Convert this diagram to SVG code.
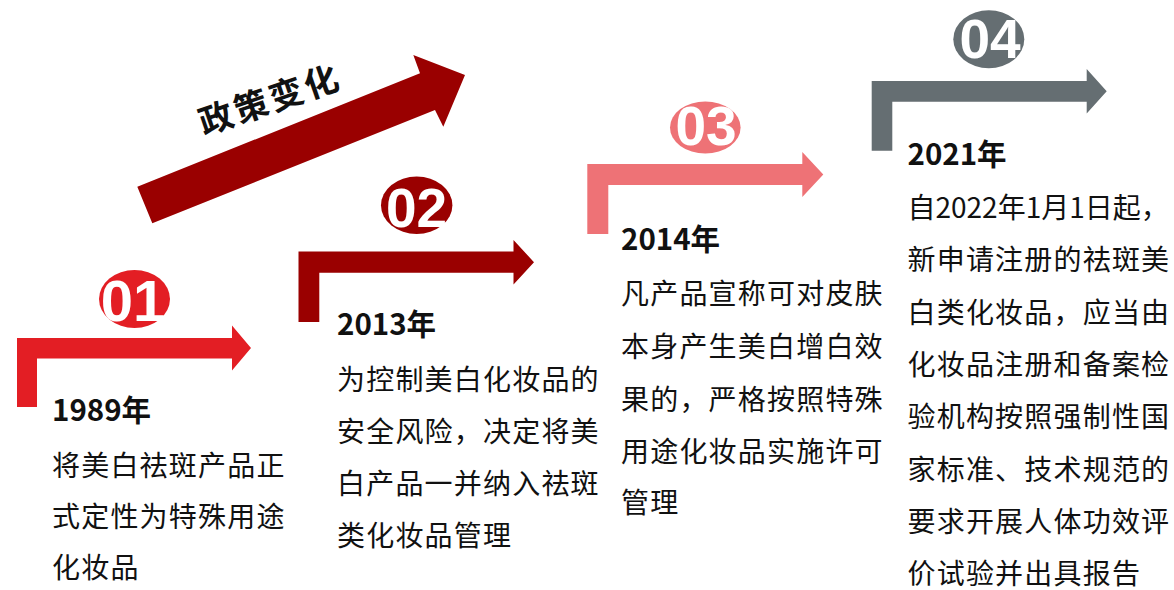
<svg xmlns="http://www.w3.org/2000/svg" width="1174" height="590" viewBox="0 0 1174 590">
<style>
.yr{font-family:"Noto Sans CJK SC","Liberation Sans",sans-serif;font-weight:bold;font-size:29.5px;fill:#111}
.bd{font-family:"Noto Sans CJK SC",sans-serif;font-size:28px;letter-spacing:1.2px;fill:#111}
.num{font-family:"Liberation Sans",Arial,sans-serif;font-weight:bold;font-size:55px;fill:#fff;text-anchor:middle}
.ttl{font-family:"Noto Sans CJK SC",sans-serif;font-weight:bold;font-size:34px;letter-spacing:3px;fill:#111;text-anchor:middle}
</style>
<rect width="1174" height="590" fill="#fff"/>
<g id="connectors">
  <polygon points="137.3,186.7 420,73.3 413.3,55 465,75 443.3,126.7 435,110 152.3,223.3" fill="#9a0000"/>
  <text class="ttl" transform="translate(270,100) rotate(-19)" y="12">政策变化</text>
</g>
<g id="step-1989">
  <path d="M17,407 V338 H232 V325.5 L251,348 L232,370.5 V358.5 H37 V407 Z" fill="#e31e24"/>
  <ellipse cx="134.5" cy="299" rx="35.5" ry="29" fill="#e31e24"/>
  <text class="num" x="133" y="321" style="font-size:58px">01</text>
  <text class="yr" x="52" y="421">1989年</text>
  <text class="bd"><tspan x="52" y="475.7">将美白祛斑产品正</tspan><tspan x="52" y="527">式定性为特殊用途</tspan><tspan x="52" y="578">化妆品</tspan></text>
</g>
<g id="step-2013">
  <path d="M298.5,322 V251.5 H513.5 V240 L534,262.2 L513.5,284.5 V272.7 H319.3 V322 Z" fill="#9a0000"/>
  <ellipse cx="416.7" cy="205.3" rx="35.7" ry="28.7" fill="#9a0000"/>
  <text class="num" x="416.5" y="227">02</text>
  <text class="yr" x="337" y="335">2013年</text>
  <text class="bd"><tspan x="337" y="389.7">为控制美白化妆品的</tspan><tspan x="337" y="442">安全风险，决定将美</tspan><tspan x="337" y="493.5">白产品一并纳入祛斑</tspan><tspan x="337" y="546.3">类化妆品管理</tspan></text>
</g>
<g id="step-2014">
  <path d="M587.3,234 V164 H802.3 V152 L823.3,174.5 L802.3,197 V185 H608.3 V234 Z" fill="#ee7276"/>
  <ellipse cx="705.3" cy="127.5" rx="35.3" ry="26" fill="#ee7276"/>
  <text class="num" x="706" y="145">03</text>
  <text class="yr" x="621" y="250">2014年</text>
  <text class="bd"><tspan x="621" y="303.7">凡产品宣称可对皮肤</tspan><tspan x="621" y="357">本身产生美白增白效</tspan><tspan x="621" y="409.7">果的，严格按照特殊</tspan><tspan x="621" y="462.3">用途化妆品实施许可</tspan><tspan x="621" y="513">管理</tspan></text>
</g>
<g id="step-2021">
  <path d="M871.7,150.7 V81 H1086.7 V69 L1106.7,91.3 L1086.7,113.5 V101.7 H892.3 V150.7 Z" fill="#656e72"/>
  <ellipse cx="988.8" cy="39.2" rx="35.5" ry="29" fill="#656e72"/>
  <text class="num" x="990" y="58">04</text>
  <text class="yr" x="907.5" y="165">2021年</text>
  <text class="bd"><tspan x="907.5" y="218" style="letter-spacing:0">自2022年1月1日起，</tspan><tspan x="907.5" y="269.7">新申请注册的祛斑美</tspan><tspan x="907.5" y="322.5">白类化妆品，应当由</tspan><tspan x="907.5" y="374.5">化妆品注册和备案检</tspan><tspan x="907.5" y="427">验机构按照强制性国</tspan><tspan x="907.5" y="479.5">家标准、技术规范的</tspan><tspan x="907.5" y="532">要求开展人体功效评</tspan><tspan x="907.5" y="583.5">价试验并出具报告</tspan></text>
</g>
</svg>
